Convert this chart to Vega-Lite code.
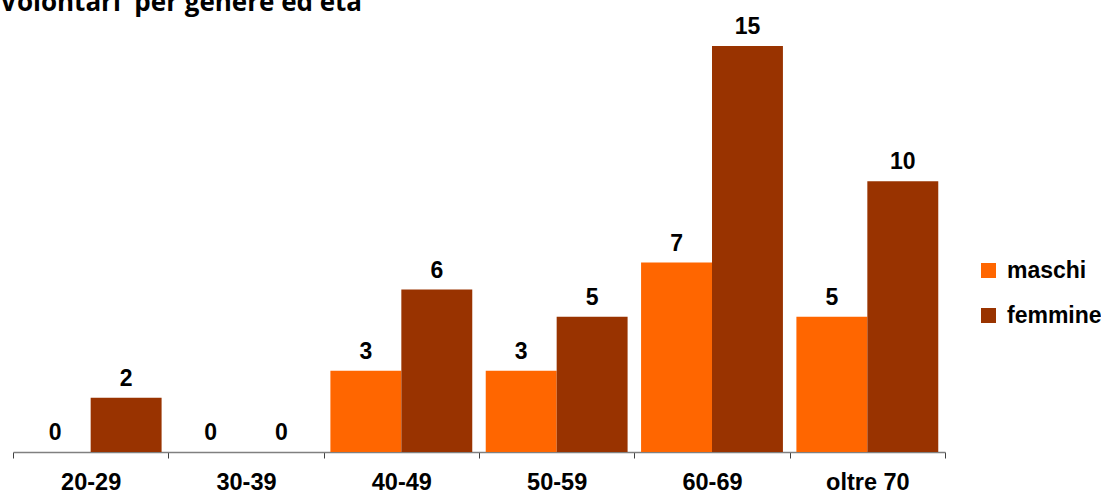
{
  "$schema": "https://vega.github.io/schema/vega-lite/v6.json",
  "width": 932,
  "height": 406,
  "autosize": "none",
  "padding": {"left": 13, "top": 46, "right": 156, "bottom": 40},
  "background": "white",
  "title": {
    "text": "Volontari\u00a0 per genere ed età",
    "anchor": "start",
    "frame": "group",
    "font": "Open Sans",
    "fontSize": 26,
    "fontWeight": "bold",
    "color": "#000000",
    "dx": -13,
    "dy": 4,
    "offset": 4
  },
  "data": {
    "values": [
      {"eta": "20-29", "genere": "maschi", "n": 0},
      {"eta": "20-29", "genere": "femmine", "n": 2},
      {"eta": "30-39", "genere": "maschi", "n": 0},
      {"eta": "30-39", "genere": "femmine", "n": 0},
      {"eta": "40-49", "genere": "maschi", "n": 3},
      {"eta": "40-49", "genere": "femmine", "n": 6},
      {"eta": "50-59", "genere": "maschi", "n": 3},
      {"eta": "50-59", "genere": "femmine", "n": 5},
      {"eta": "60-69", "genere": "maschi", "n": 7},
      {"eta": "60-69", "genere": "femmine", "n": 15},
      {"eta": "oltre 70", "genere": "maschi", "n": 5},
      {"eta": "oltre 70", "genere": "femmine", "n": 10}
    ]
  },
  "encoding": {
    "x": {
      "field": "eta",
      "type": "nominal",
      "sort": null,
      "scale": {"paddingInner": 0, "paddingOuter": 0},
      "axis": {
        "title": null,
        "labelAngle": 0,
        "labelFont": "Liberation Sans",
        "labelFontSize": 23.5,
        "labelFontWeight": "bold",
        "labelColor": "#000000",
        "labelPadding": 12,
        "tickBand": "extent",
        "tickSize": 6,
        "tickColor": "#404040",
        "domainColor": "#808080",
        "domainWidth": 1.5,
        "grid": false
      }
    },
    "xOffset": {
      "field": "genere",
      "type": "nominal",
      "sort": ["maschi", "femmine"],
      "scale": {"paddingInner": 0, "paddingOuter": 0.095}
    },
    "y": {
      "field": "n",
      "type": "quantitative",
      "scale": {"domain": [0, 15], "nice": false},
      "axis": null
    }
  },
  "layer": [
    {
      "mark": {"type": "bar"},
      "encoding": {
        "color": {
          "field": "genere",
          "type": "nominal",
          "sort": ["maschi", "femmine"],
          "scale": {"domain": ["maschi", "femmine"], "range": ["#FF6600", "#993300"]},
          "legend": {
            "title": null,
            "orient": "none",
            "legendX": 964,
            "legendY": 213,
            "symbolType": "square",
            "symbolSize": 225,
            "symbolStrokeWidth": 0,
            "labelFont": "Liberation Sans",
            "labelFontSize": 23,
            "labelFontWeight": "bold",
            "labelColor": "#000000",
            "labelOffset": 7,
            "rowPadding": 21
          }
        }
      }
    },
    {
      "mark": {
        "type": "text",
        "baseline": "alphabetic",
        "dy": -12,
        "font": "Liberation Sans",
        "fontSize": 23,
        "fontWeight": "bold",
        "color": "#000000"
      },
      "encoding": {
        "text": {"field": "n", "type": "quantitative"}
      }
    }
  ],
  "config": {"view": {"stroke": null}}
}
